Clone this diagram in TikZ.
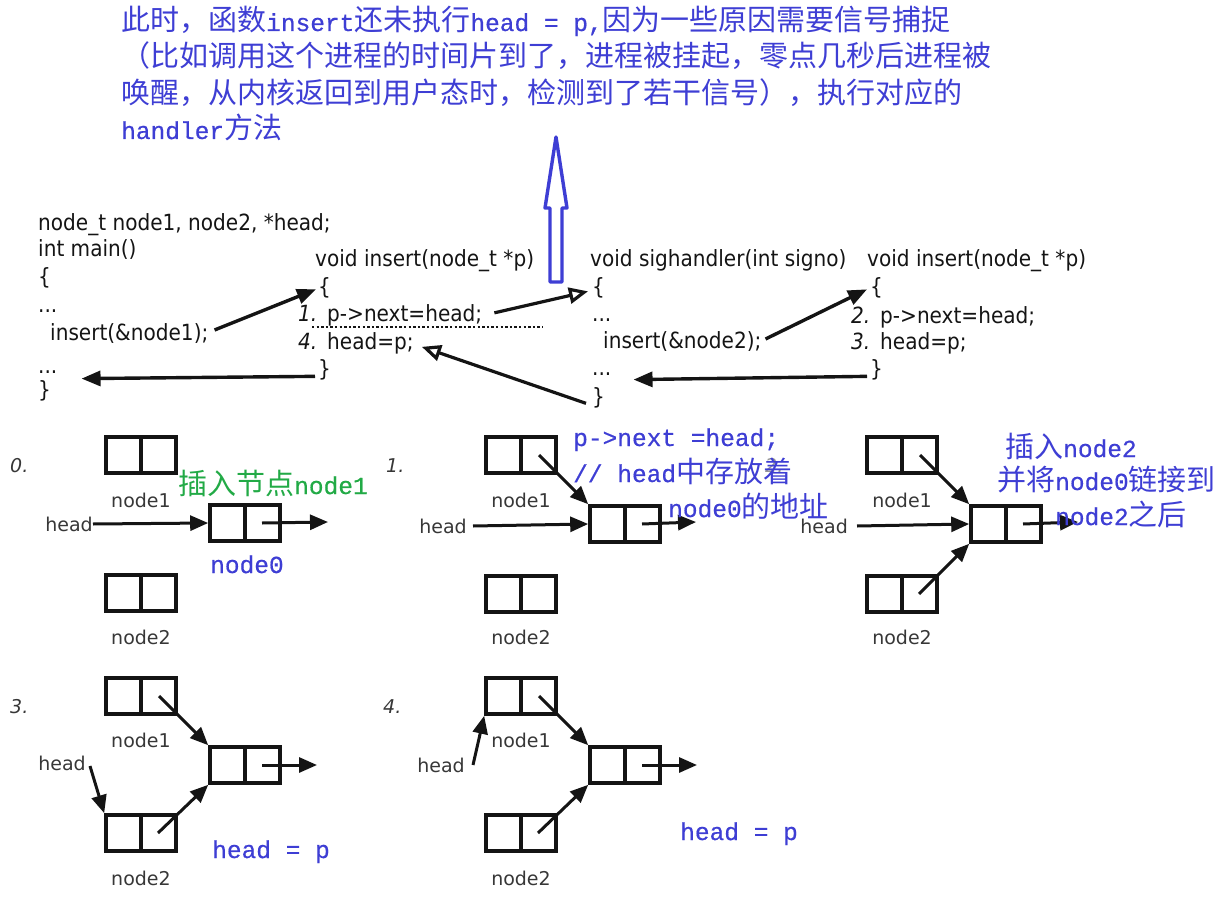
\documentclass[tikz,border=0pt]{standalone}
\usepackage{fontspec}
\usetikzlibrary{arrows.meta,calc}
\newfontfamily\cjkfont{Noto Sans CJK SC}
\newfontfamily\latinmono[FakeBold=0.6]{Liberation Mono}
\newfontfamily\codefont[FakeStretch=0.9]{DejaVu Sans}
\newfontfamily\labelfont{DejaVu Sans}
\definecolor{noteblue}{RGB}{62,62,212}
\definecolor{notegreen}{RGB}{34,170,70}
\definecolor{ink}{RGB}{20,20,20}
\definecolor{labgray}{RGB}{55,55,55}
\definecolor{faint}{RGB}{150,150,150}
\newcommand\zhsize{\fontsize{29}{36}\selectfont}
\newcommand\lt[1]{{\latinmono\fontsize{24.5}{36}\selectfont #1}}
\tikzset{
  x=1pt, y=-1pt,
  note/.style={font=\cjkfont\zhsize, text=noteblue, inner sep=0, anchor=base west},
  greennote/.style={note, text=notegreen},
  code/.style={font=\codefont\fontsize{22.3}{26}\selectfont, text=ink, inner sep=0, anchor=base west},
  lab/.style={font=\labelfont\fontsize{19}{22}\selectfont, text=labgray, inner sep=0},
  stepnum/.style={font=\labelfont\itshape\fontsize{19}{22}\selectfont, text=labgray, inner sep=0, anchor=base west},
  cell/.style={draw=ink, line width=3.6pt, minimum width=70pt, minimum height=36pt, inner sep=0,
    path picture={\draw[ink, line width=3.6pt] (path picture bounding box.north) -- (path picture bounding box.south);}},
  ptr/.style={draw=ink, line width=3pt, -{Triangle[length=18pt,width=15pt]}},
  callarrow/.style={draw=ink, line width=3.4pt, -{Triangle[length=19pt,width=15pt]}},
  retarrow/.style={draw=ink, line width=3.2pt, -{Triangle[open,length=19pt,width=16pt,fill=white]}},
  bigarrow/.style={draw=noteblue, line width=3.4pt, fill=white, line join=round},
}
\begin{document}
\begin{tikzpicture}
\useasboundingbox (0,0) rectangle (1217,901);

% explanatory note at the top
\node[note] (t1) at (121,31) {此时，函数\lt{insert}还未执行\lt{head = p,}因为一些原因需要信号捕捉};
\node[note] (t2) at (121,67) {（比如调用这个进程的时间片到了，进程被挂起，零点几秒后进程被};
\node[note] (t3) at (121,104) {唤醒，从内核返回到用户态时，检测到了若干信号），执行对应的};
\node[note] (t4) at (121,139) {\lt{handler}方法};

% hollow arrow pointing up to the note
\coordinate (upfoot) at (556,282);
\coordinate (uptip) at (556,137);
\draw[bigarrow] ($(upfoot)+(-6,0)$) -- ($(upfoot)+(6,0)$) -- ($(upfoot)+(6,-74)$) -- ($(upfoot)+(11,-74)$)
  -- (uptip) -- ($(upfoot)+(-11,-74)$) -- ($(upfoot)+(-6,-74)$) -- cycle;

% main()
\node[code] (m1) at (38,231) {node\_t node1, node2, *head;};
\node[code] (m2) at (38,257) {int main()};
\node[code] (m3) at (38,284) {\{};
\node[code] (m4) at (38,312) {...};
\node[code] (m5) at (50,340) {insert(\&node1);};
\node[code] (m6) at (38,373) {...};
\node[code] (m7) at (38,397) {\}};

% first insert()
\node[code] (i1) at (315,266) {void insert(node\_t *p)};
\node[code] (i2) at (318,294) {\{};
\node[code] (i3n) at (298,321) {\itshape 1.};
\node[code] (i3) at (327,321) {p->next=head;};
\node[code] (i4n) at (298,349) {\itshape 4.};
\node[code] (i4) at (327,349) {head=p;};
\node[code] (i5) at (318,376) {\}};
\draw[ink, line width=2.6pt, dash pattern=on 2.4pt off 2.2pt] (312,327) -- (543,327);

% sighandler()
\node[code] (s1) at (590,266) {void sighandler(int signo)};
\node[code] (s2) at (592,294) {\{};
\node[code] (s3) at (592,321) {...};
\node[code] (s4) at (603,348) {insert(\&node2);};
\node[code] (s5) at (592,375) {...};
\node[code] (s6) at (592,404) {\}};

% second insert()
\node[code] (j1) at (867,266) {void insert(node\_t *p)};
\node[code] (j2) at (870,294) {\{};
\node[code] (j3n) at (851,323) {\itshape 2.};
\node[code] (j3) at (880,323) {p->next=head;};
\node[code] (j4n) at (851,349) {\itshape 3.};
\node[code] (j4) at (880,349) {head=p;};
\node[code] (j5) at (870,376) {\}};

% control flow
\draw[callarrow] ([xshift=6pt,yshift=3pt]m5.east) -- ([xshift=-2pt,yshift=-2pt]i2.west);
\draw[callarrow] ([xshift=-3pt,yshift=-7pt]i5.west) -- ([xshift=24pt,yshift=-7pt]m6.east);
\draw[retarrow] ([xshift=12pt,yshift=2pt]i3.east) -- ([xshift=-4pt,yshift=-4pt]s2.west);
\draw[retarrow] ([xshift=-6pt,yshift=-6pt]s6.west) -- ([xshift=8pt,yshift=-4pt]i4.east);
\draw[callarrow] ([xshift=4pt,yshift=2pt]s4.east) -- ([xshift=-3pt,yshift=-2pt]j2.west);
\draw[callarrow] ([xshift=-3pt,yshift=-7pt]j5.west) -- ([xshift=22pt,yshift=-6pt]s5.east);

% step 0
\node[stepnum] (n0) at (10,472) {0.};
\node[cell] (p0a) at (141,455) {};
\node[cell] (p0b) at (245,523) {};
\node[cell] (p0c) at (141,593) {};
\node[lab] (p0al) at (141,500) {node1};
\node[lab] (p0cl) at (141,637) {node2};
\node[lab, anchor=east] (p0h) at (93,524) {head};
\coordinate (p0e) at (328,522);
\draw[ptr] (p0h.east) -- (p0b.west);
\draw[ptr] ([xshift=17pt]p0b.center) -- (p0e);
\node[greennote] (g0) at (178,494) {插入节点\lt{node1}};
\node[note] (b0) at (210,573) {\lt{node0}};

% step 1
\node[stepnum] (n1) at (386,472) {1.};
\node[stepnum, text=faint] (n2) at (765,472) {2.};
\node[cell] (p1a) at (521,455) {};
\node[cell] (p1b) at (625,524) {};
\node[cell] (p1c) at (521,594) {};
\node[lab] (p1al) at (521,500) {node1};
\node[lab] (p1cl) at (521,637) {node2};
\node[lab, anchor=east] (p1h) at (467,526) {head};
\coordinate (p1e) at (696,522);
\draw[ptr] ([xshift=6pt]p1h.east) -- (p1b.west);
\draw[ptr] ([xshift=18pt]p1a.center) -- (p1b.north west);
\draw[ptr] ([xshift=17pt]p1b.center) -- (p1e);
\node[note] (b1a) at (573,446) {\lt{p->next =head;}};
\node[note] (b1b) at (573,482) {\lt{// head}中存放着};
\node[note] (b1c) at (668,517) {\lt{node0}的地址};

% step 2
\node[cell] (p2a) at (902,455) {};
\node[cell] (p2b) at (1006,524) {};
\node[cell] (p2c) at (902,594) {};
\node[lab] (p2al) at (902,500) {node1};
\node[lab] (p2cl) at (902,637) {node2};
\node[lab, anchor=east] (p2h) at (848,526) {head};
\coordinate (p2e) at (1078,522);
\draw[ptr] ([xshift=9pt]p2h.east) -- (p2b.west);
\draw[ptr] ([xshift=18pt]p2a.center) -- (p2b.north west);
\draw[ptr] ([xshift=17pt]p2c.center) -- (p2b.south west);
\draw[ptr] ([xshift=17pt]p2b.center) -- (p2e);
\node[note] (b2a) at (1005,457) {插入\lt{node2}};
\node[note] (b2b) at (997,490) {并将\lt{node0}链接到};
\node[note] (b2c) at (1055,525) {\lt{node2}之后};

% step 3
\node[stepnum] (n3) at (10,713) {3.};
\node[cell] (p3a) at (141,696) {};
\node[cell] (p3b) at (245,765) {};
\node[cell] (p3c) at (141,833) {};
\node[lab] (p3al) at (141,740) {node1};
\node[lab] (p3cl) at (141,878) {node2};
\node[lab] (p3h) at (62,763) {head};
\coordinate (p3s) at (90,766);
\draw[ptr] (p3s) -- (p3c.north west);
\draw[ptr] ([xshift=18pt]p3a.center) -- (p3b.north west);
\draw[ptr] ([xshift=17pt]p3c.center) -- (p3b.south west);
\draw[ptr] ([xshift=17pt]p3b.center) -- ++(55,0) coordinate (p3e);
\node[note] (b3) at (212,858) {\lt{head = p}};

% step 4
\node[stepnum] (n4) at (383,713) {4.};
\node[cell] (p4a) at (521,696) {};
\node[cell] (p4b) at (625,765) {};
\node[cell] (p4c) at (521,833) {};
\node[lab] (p4al) at (521,740) {node1};
\node[lab] (p4cl) at (521,878) {node2};
\node[lab] (p4h) at (441,765) {head};
\coordinate (p4s) at (473,765);
\draw[ptr] (p4s) -- (p4a.south west);
\draw[ptr] ([xshift=18pt]p4a.center) -- (p4b.north west);
\draw[ptr] ([xshift=17pt]p4c.center) -- (p4b.south west);
\draw[ptr] ([xshift=17pt]p4b.center) -- ++(55,0) coordinate (p4e);
\node[note] (b4) at (680,840) {\lt{head = p}};
\end{tikzpicture}
\end{document}
